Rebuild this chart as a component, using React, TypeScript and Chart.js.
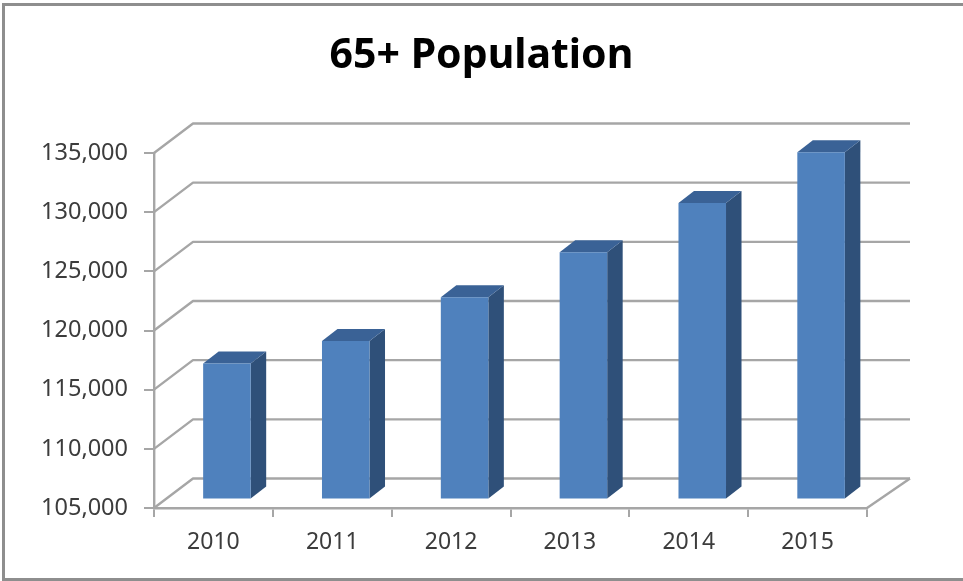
import React, { useEffect, useRef } from "react";
import { Chart, registerables } from "chart.js";

Chart.register(...registerables);

const years = ["2010", "2011", "2012", "2013", "2014", "2015"];
const population = [116500, 118400, 122100, 125900, 130050, 134350];
const titleText = "65+ Population";
const axisMin = 105000;
const axisMax = 135000;
const axisStep = 5000;

const FONT = "'Noto Sans', sans-serif";
const GRID = "#a6a6a6";
const FRONT = "#4f81bd";
const SIDE = "#2f5079";
const TOP = "#3a6296";

const wall = { dxLeft: 39, dxRight: 43, dy: -29.5 };
const barShift = { x: 13.5, y: -8.5 };
const barDepth = { x: 15.5, y: -12 };

const depthPlugin = {
  id: "depth",
  beforeDatasetsDraw(chart: any) {
    const { ctx, chartArea, scales } = chart;
    const { left, right, bottom } = chartArea;
    ctx.save();
    ctx.strokeStyle = GRID;
    ctx.lineWidth = 2.4;
    ctx.lineJoin = "round";
    for (const t of scales.y.ticks) {
      const y = scales.y.getPixelForValue(t.value);
      ctx.beginPath();
      ctx.moveTo(left, y);
      ctx.lineTo(left + wall.dxLeft, y + wall.dy);
      ctx.lineTo(right + wall.dxRight, y + wall.dy);
      ctx.stroke();
    }
    ctx.beginPath();
    ctx.moveTo(right, bottom);
    ctx.lineTo(right + wall.dxRight, bottom + wall.dy);
    ctx.stroke();

    for (const bar of chart.getDatasetMeta(0).data) {
      const l = bar.x - bar.width / 2 + barShift.x;
      const r = bar.x + bar.width / 2 + barShift.x;
      const t = bar.y + barShift.y;
      const b = bar.base + barShift.y;
      ctx.fillStyle = SIDE;
      ctx.beginPath();
      ctx.moveTo(r, t);
      ctx.lineTo(r + barDepth.x, t + barDepth.y);
      ctx.lineTo(r + barDepth.x, b + barDepth.y);
      ctx.lineTo(r, b);
      ctx.closePath();
      ctx.fill();
      ctx.fillStyle = TOP;
      ctx.beginPath();
      ctx.moveTo(l, t);
      ctx.lineTo(l + barDepth.x, t + barDepth.y);
      ctx.lineTo(r + barDepth.x, t + barDepth.y);
      ctx.lineTo(r, t);
      ctx.closePath();
      ctx.fill();
    }
    ctx.restore();
    ctx.save();
    ctx.translate(barShift.x, barShift.y);
  },
  afterDatasetsDraw(chart: any) {
    chart.ctx.restore();
  },
};

export default function App() {
  const ref = useRef<HTMLCanvasElement>(null);
  useEffect(() => {
    const chart = new Chart(ref.current as HTMLCanvasElement, {
      type: "bar",
      data: {
        labels: years,
        datasets: [
          {
            data: population,
            base: axisMin,
            backgroundColor: FRONT,
            borderWidth: 0,
            barPercentage: 0.4,
            categoryPercentage: 1,
          },
        ],
      },
      options: {
        responsive: false,
        animation: false,
        events: [],
        clip: false,
        layout: { padding: 0 },
        plugins: {
          legend: { display: false },
          tooltip: { enabled: false },
          title: {
            display: true,
            text: titleText,
            color: "#000000",
            font: { family: FONT, size: 41, weight: "bold", lineHeight: 1.2 },
            padding: { top: 32, bottom: 71.8 },
          },
        },
        scales: {
          x: {
            afterFit: (s: any) => { s.height = 73; },
            grid: { drawOnChartArea: false, color: GRID, lineWidth: 2, tickLength: 9 },
            border: { color: GRID, width: 2.4 },
            ticks: { color: "#3c3c3c", font: { family: FONT, size: 23 }, padding: 12, maxRotation: 0 },
          },
          y: {
            min: axisMin,
            max: axisMax,
            afterFit: (s: any) => { s.width = 154; },
            grid: { drawOnChartArea: false, color: GRID, lineWidth: 2, tickLength: 10 },
            border: { color: GRID, width: 2.4 },
            ticks: {
              stepSize: axisStep,
              color: "#3c3c3c",
              font: { family: FONT, size: 23.5 },
              padding: 16,
              callback: (v: any) => Number(v).toLocaleString("en-US"),
            },
          },
          spacer: {
            type: "linear",
            position: "right",
            afterFit: (s: any) => { s.width = 96; },
            grid: { display: false },
            border: { display: false },
            ticks: { display: false },
          },
        },
      },
      plugins: [depthPlugin],
    } as any);
    return () => chart.destroy();
  }, []);

  return (
    <div style={{ position: "fixed", left: 0, top: 0, width: 963, height: 581, overflow: "hidden", background: "#fff" }}>
      <canvas ref={ref} width={963} height={581} style={{ display: "block", filter: "blur(0.6px)" }} />
      <div
        style={{
          position: "absolute",
          left: 2,
          top: 3,
          width: 980,
          height: 572,
          border: "3px solid #8e8e8e",
        }}
      />
    </div>
  );
}
